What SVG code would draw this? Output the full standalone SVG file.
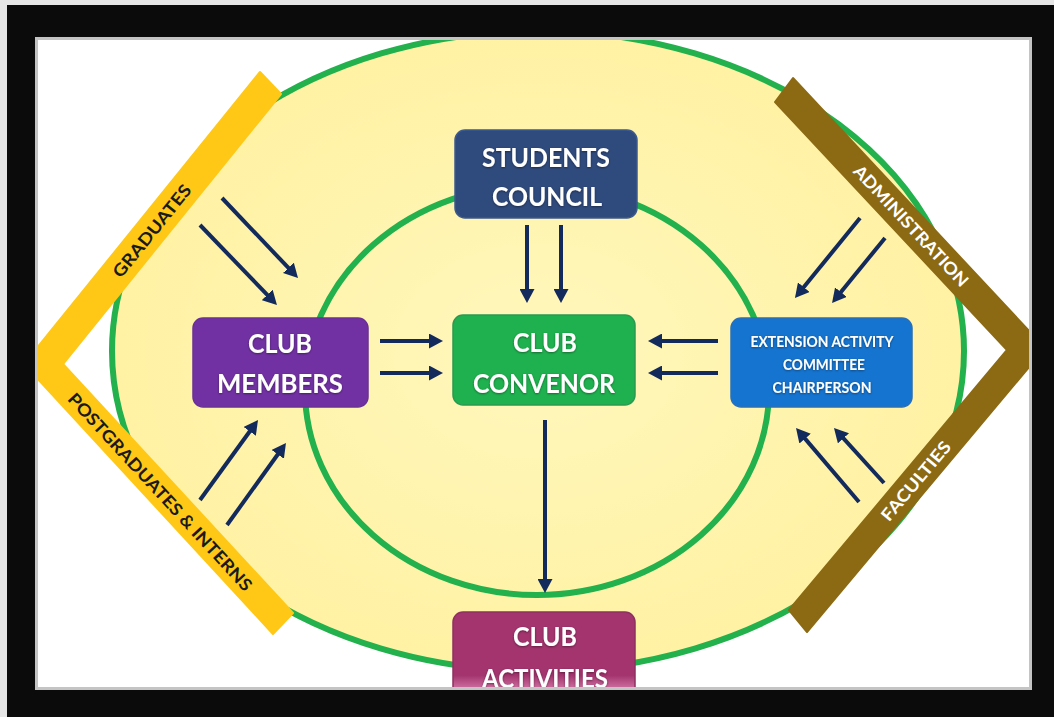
<svg xmlns="http://www.w3.org/2000/svg" width="1054" height="717" viewBox="0 0 1054 717">
<style>
.bx{stroke-width:1.5}
.t{font-family:Lato,"Liberation Sans",Arial,sans-serif;font-weight:bold;fill:#fff;text-anchor:middle}
.big{font-size:27px}
.mid{font-size:16px}
.bar{font-family:Lato,"Liberation Sans",Arial,sans-serif;font-weight:bold;font-size:17px;text-anchor:middle}
.arr{stroke:#122a5c;stroke-width:4;fill:none;marker-end:url(#ah)}
.ring{stroke:#22b14c;stroke-width:6}
</style>
<defs>
<marker id="ah" markerUnits="userSpaceOnUse" viewBox="0 0 14 15" markerWidth="14" markerHeight="15" refX="6" refY="7.5" orient="auto">
<path d="M0,0 L14,7.5 L0,15 z" fill="#122a5c"/>
</marker>
<radialGradient id="yel" cx="0.5" cy="0.5" r="0.5">
<stop offset="0" stop-color="#fff7bc"/>
<stop offset="1" stop-color="#fff2a4"/>
</radialGradient>
<linearGradient id="actg" x1="0" y1="612" x2="0" y2="700" gradientUnits="userSpaceOnUse">
<stop offset="0" stop-color="#a3346e"/>
<stop offset="0.72" stop-color="#a3346e"/>
<stop offset="0.85" stop-color="#c8689a"/>
<stop offset="1" stop-color="#b04a80"/>
</linearGradient>
<filter id="ts" x="-10%" y="-30%" width="120%" height="160%">
<feDropShadow dx="0" dy="0.8" stdDeviation="1" flood-color="#000" flood-opacity="0.45"/>
</filter>
</defs>
<rect x="0" y="0" width="1054" height="717" fill="#e6e6e6"/>
<rect x="35" y="37" width="997" height="653" fill="#ffffff"/>
<g id="rings">
<ellipse cx="538" cy="351" rx="426" ry="320" class="ring" style="fill:url(#yel)"/>
<ellipse cx="537" cy="390" rx="232" ry="205" class="ring" style="fill:none"/>
</g>
<g id="graduates-bar">
<polygon points="260,72 24,364 273,634 293,613 63,364 281,94" fill="#ffc817" stroke="#ffc817" stroke-width="2" stroke-linejoin="round"/>
<text class="bar" fill="#1a1a1a" transform="translate(152,231) rotate(-51)" y="6" textLength="114" lengthAdjust="spacingAndGlyphs">GRADUATES</text>
<text class="bar" fill="#1a1a1a" transform="translate(160,492) rotate(47.3)" y="6" textLength="262" lengthAdjust="spacingAndGlyphs">POSTGRADUATES &amp; INTERNS</text>
</g>
<g id="administration-bar">
<polygon points="793,78 1045,348 807,632 789,610 1007,350 775,102" fill="#8c6a14" stroke="#8c6a14" stroke-width="2" stroke-linejoin="round"/>
<text class="bar" fill="#ffffff" transform="translate(911,226) rotate(46.9)" y="6" textLength="159" lengthAdjust="spacingAndGlyphs">ADMINISTRATION</text>
<text class="bar" fill="#ffffff" transform="translate(916,481) rotate(-50)" y="6" textLength="98" lengthAdjust="spacingAndGlyphs">FACULTIES</text>
</g>
<g id="students-council">
<rect class="bx" x="455" y="130" width="182" height="88" rx="10" fill="#2f4a7c" stroke="#3d5a8e"/>
<text class="t big" filter="url(#ts)" x="546" y="167" textLength="128" lengthAdjust="spacingAndGlyphs">STUDENTS</text>
<text class="t big" filter="url(#ts)" x="547" y="206" textLength="110" lengthAdjust="spacingAndGlyphs">COUNCIL</text>
</g>
<g id="club-convenor">
<rect class="bx" x="453" y="315" width="182" height="90" rx="10" fill="#1fb14f" stroke="#2a9a50"/>
<text class="t big" filter="url(#ts)" x="545" y="352" textLength="64" lengthAdjust="spacingAndGlyphs">CLUB</text>
<text class="t big" filter="url(#ts)" x="544" y="393" textLength="142" lengthAdjust="spacingAndGlyphs">CONVENOR</text>
</g>
<g id="club-members">
<rect class="bx" x="193" y="318" width="175" height="89" rx="10" fill="#7231a3" stroke="#6a3096"/>
<text class="t big" filter="url(#ts)" x="280" y="353" textLength="64" lengthAdjust="spacingAndGlyphs">CLUB</text>
<text class="t big" filter="url(#ts)" x="280" y="393" textLength="126" lengthAdjust="spacingAndGlyphs">MEMBERS</text>
</g>
<g id="extension-committee">
<rect class="bx" x="731" y="318" width="181" height="89" rx="10" fill="#1574cf" stroke="#2a6fb8"/>
<text class="t mid" filter="url(#ts)" x="822" y="347" textLength="143" lengthAdjust="spacingAndGlyphs">EXTENSION ACTIVITY</text>
<text class="t mid" filter="url(#ts)" x="824" y="370" textLength="82" lengthAdjust="spacingAndGlyphs">COMMITTEE</text>
<text class="t mid" filter="url(#ts)" x="822" y="393" textLength="99" lengthAdjust="spacingAndGlyphs">CHAIRPERSON</text>
</g>
<g id="club-activities">
<rect class="bx" x="453" y="612" width="182" height="100" rx="10" fill="url(#actg)" stroke="#8e3060"/>
<text class="t big" filter="url(#ts)" x="545" y="646" textLength="64" lengthAdjust="spacingAndGlyphs">CLUB</text>
<text class="t big" filter="url(#ts)" x="545" y="688" textLength="126" lengthAdjust="spacingAndGlyphs">ACTIVITIES</text>
</g>
<g id="connectors">
<path class="arr" d="M527,225 L527,295"/>
<path class="arr" d="M561,225 L561,295"/>
<path class="arr" d="M380,341 L435,341"/>
<path class="arr" d="M380,373 L435,373"/>
<path class="arr" d="M718,341 L656,341"/>
<path class="arr" d="M718,373 L656,373"/>
<path class="arr" d="M545,420 L545,585"/>
<path class="arr" d="M222,198 L292.5,272.2"/>
<path class="arr" d="M200,225 L271.4,299.2"/>
<path class="arr" d="M200,500 L253.3,426.5"/>
<path class="arr" d="M227,525 L281.3,449.5"/>
<path class="arr" d="M860,218 L800,291.8"/>
<path class="arr" d="M885,238 L837.1,296.8"/>
<path class="arr" d="M859,502 L801.2,434.1"/>
<path class="arr" d="M884,483 L839.4,433.9"/>
</g>
<g id="frame">
<path d="M7,5 H1054 V717 H7 Z M35,37 V690 H1032 V37 Z" fill="#0b0b0b" fill-rule="evenodd"/>
<rect x="36.5" y="38.5" width="994" height="650" fill="none" stroke="#c4c4c4" stroke-width="3"/>
</g>
</svg>
